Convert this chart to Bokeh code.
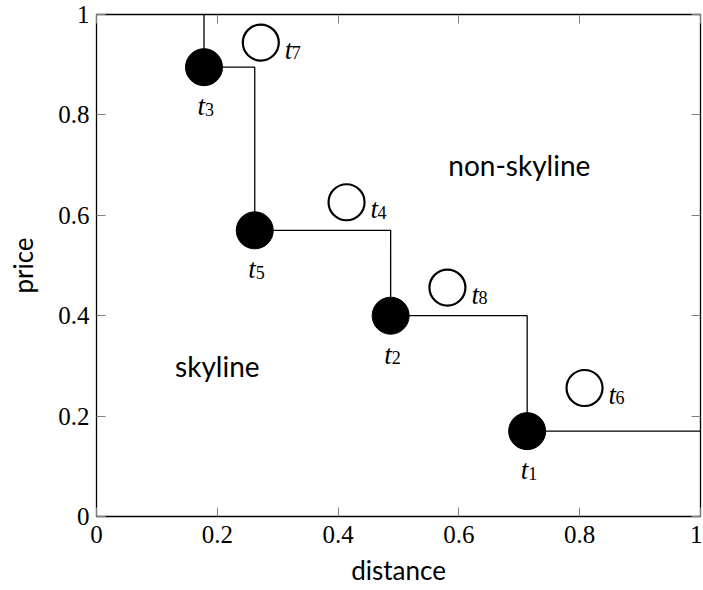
from bokeh.plotting import figure
from bokeh.models import Range1d, FixedTicker, NumeralTickFormatter, LinearAxis, CustomJSTickFormatter, ColumnDataSource
from bokeh.core.properties import value
from bokeh.embed import file_html
from bokeh.resources import INLINE

# skyline points t1, t2, t3, t5
sky_names = ["1", "2", "3", "5"]
sky_x = [0.713, 0.487, 0.178, 0.262]
sky_y = [0.170, 0.400, 0.895, 0.570]
# non-skyline points t4, t6, t7, t8
non_names = ["4", "6", "7", "8"]
non_x = [0.414, 0.808, 0.272, 0.581]
non_y = [0.626, 0.256, 0.944, 0.456]

ticks = [0, 0.2, 0.4, 0.6, 0.8, 1]
region_labels = ["skyline", "non-skyline"]
region_x = [0.2, 0.7]
region_y = [0.3, 0.7]

p = figure(width=702, height=588, output_backend="svg", toolbar_location=None,
           x_range=Range1d(0, 1), y_range=Range1d(0, 1),
           min_border_left=96, min_border_right=2, min_border_top=14, min_border_bottom=68)
p.background_fill_color = "white"
p.border_fill_color = "white"
p.grid.visible = False
p.outline_line_color = "black"
p.outline_line_width = 1.3
p.outline_line_alpha = 1.0

serif = "Liberation Serif"
sans = "Lato"

for ax in [p.xaxis[0], p.yaxis[0]]:
    ax.ticker = FixedTicker(ticks=ticks)
    ax.formatter = NumeralTickFormatter(format="0.[0]")
    ax.major_tick_in = 9
    ax.major_tick_out = 0
    ax.minor_tick_line_color = None
    ax.major_tick_line_color = "#808080"
    ax.major_tick_line_width = 1
    ax.axis_line_color = None
    ax.major_label_text_font = serif
    ax.major_label_text_font_size = "25px"
    ax.major_label_text_color = "black"
    ax.axis_label_text_font = sans
    ax.axis_label_text_font_size = "26px"
    ax.axis_label_text_font_style = "normal"
    ax.axis_label_text_color = "black"

p.xaxis[0].axis_label = "distance"
p.yaxis[0].axis_label = "price"
p.xaxis[0].major_label_standoff = 9
p.yaxis[0].major_label_standoff = 7
p.xaxis[0].axis_label_standoff = 8
p.yaxis[0].axis_label_standoff = 16

for loc in ["above", "right"]:
    ax = LinearAxis(ticker=FixedTicker(ticks=ticks),
                    formatter=CustomJSTickFormatter(code="return ''"))
    ax.major_tick_in = 9
    ax.major_tick_out = 0
    ax.minor_tick_line_color = None
    ax.major_tick_line_color = "#808080"
    ax.axis_line_color = None
    ax.major_label_standoff = 0
    ax.major_label_text_font_size = "1px"
    p.add_layout(ax, loc)

# step line built from the skyline points
order = sorted(range(len(sky_x)), key=lambda i: sky_x[i])
sx = [sky_x[i] for i in order]
sy = [sky_y[i] for i in order]
line_x = [sx[0]]
line_y = [1.0]
for i in range(len(sx)):
    line_x.append(sx[i]); line_y.append(sy[i])
    nx = sx[i + 1] if i + 1 < len(sx) else 1.0
    line_x.append(nx); line_y.append(sy[i])
p.line(line_x, line_y, line_color="black", line_width=1.3)

sky_src = ColumnDataSource(dict(x=sky_x, y=sky_y, n=sky_names, t=["t"] * len(sky_x)))
non_src = ColumnDataSource(dict(x=non_x, y=non_y, n=non_names, t=["t"] * len(non_x)))

p.scatter("x", "y", source=sky_src, size=37, fill_color="black", line_color="black")
p.scatter("x", "y", source=non_src, size=36, fill_color="white", line_color="black", line_width=2.2)

# labels below skyline points
p.text("x", "y", text="t", source=sky_src, text_font=value(serif), text_font_style="italic",
       text_font_size="27px", text_align="right", text_baseline="alphabetic",
       x_offset=1, y_offset=39, text_color="black")
p.text("x", "y", text="n", source=sky_src, text_font=value(serif),
       text_font_size="18px", text_align="left", text_baseline="alphabetic",
       x_offset=1, y_offset=42, text_color="black")
# labels right of non-skyline points
p.text("x", "y", text="t", source=non_src, text_font=value(serif), text_font_style="italic",
       text_font_size="27px", text_align="left", text_baseline="alphabetic",
       x_offset=24, y_offset=7, text_color="black")
p.text("x", "y", text="n", source=non_src, text_font=value(serif),
       text_font_size="18px", text_align="left", text_baseline="alphabetic",
       x_offset=31, y_offset=10, text_color="black")

p.text(region_x, region_y, text=region_labels, text_font=value(sans), text_font_size="28px",
       text_align="center", text_baseline="middle", text_color="black")

open("out.html", "w").write(file_html(p, INLINE))
